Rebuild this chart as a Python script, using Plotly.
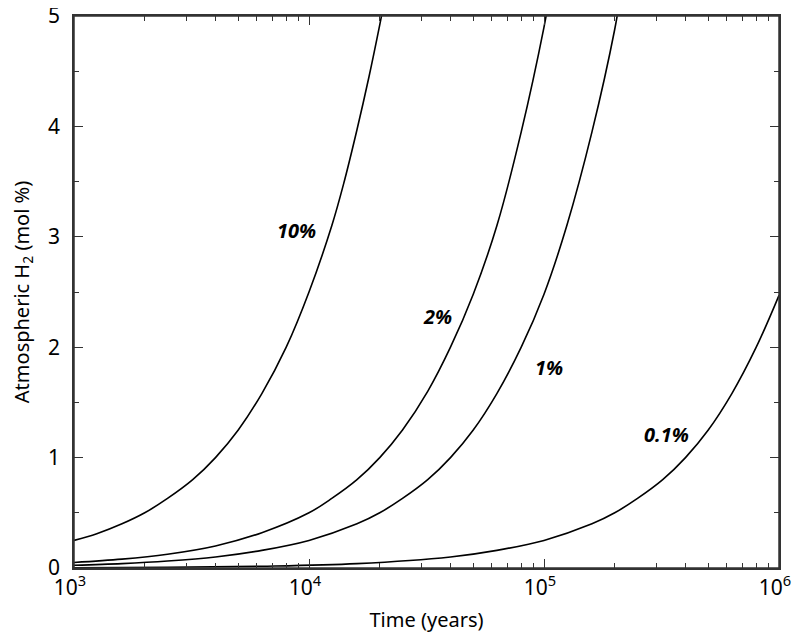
"""Atmospheric H2 build-up over time for several outgassing fractions."""

import plotly.graph_objects as go

# Time (years) and atmospheric H2 (mol %)
t_10 = [1000, 1250, 1600, 2000, 2500, 3200, 4000, 5000, 6300, 8000, 10000,
        12500, 14000, 16000, 18000, 20000, 21000]
h2_10 = [0.25, 0.31, 0.4, 0.5, 0.63, 0.8, 1.0, 1.25, 1.58, 2.0, 2.5,
         3.1, 3.47, 3.97, 4.45, 4.92, 5.15]

t_2 = [1000, 1600, 2500, 4000, 6300, 10000, 12500, 16000, 20000, 25000,
       32000, 40000, 50000, 63000, 80000, 100000, 106000]
h2_2 = [0.05, 0.08, 0.125, 0.2, 0.32, 0.5, 0.63, 0.8, 1.0, 1.25,
        1.6, 2.0, 2.48, 3.1, 3.95, 4.9, 5.2]

t_1 = [1000, 1600, 2500, 4000, 6300, 10000, 16000, 20000, 25000, 32000,
       40000, 50000, 63000, 80000, 100000, 125000, 160000, 200000, 212000]
h2_1 = [0.025, 0.04, 0.063, 0.1, 0.16, 0.25, 0.4, 0.5, 0.63, 0.8,
        1.0, 1.25, 1.58, 2.0, 2.48, 3.1, 3.95, 4.88, 5.2]

t_01 = [1000, 2500, 6300, 16000, 40000, 63000, 100000, 160000, 200000,
        250000, 320000, 400000, 500000, 630000, 800000, 1000000]
h2_01 = [0.0025, 0.006, 0.016, 0.04, 0.1, 0.16, 0.25, 0.4, 0.5,
         0.63, 0.8, 1.0, 1.25, 1.58, 2.0, 2.47]

series = [(t_10, h2_10), (t_2, h2_2), (t_1, h2_1), (t_01, h2_01)]

# Curve labels and where they sit (log10 time, mol %)
labels = ["10%", "2%", "1%", "0.1%"]
label_x = [3.945, 4.545, 5.02, 5.523]
label_y = [3.06, 2.28, 1.82, 1.21]

x_tickvals = [1e3, 1e4, 1e5, 1e6]
x_ticktext = ["10<sup>3</sup>", "10<sup>4</sup>", "10<sup>5</sup>", "10<sup>6</sup>"]
y_tickvals = [0, 1, 2, 3, 4, 5]

FONT = "Noto Sans"
AXIS_COLOR = "#333333"

fig = go.Figure()

for t, h2 in series:
    fig.add_trace(
        go.Scatter(
            x=t,
            y=h2,
            mode="lines",
            line={"color": "black", "width": 1.6, "shape": "spline", "smoothing": 1.0},
            showlegend=False,
        )
    )

for text, lx, ly in zip(labels, label_x, label_y):
    fig.add_annotation(
        x=lx,
        y=ly,
        text=f"<b><i>{text}</i></b>",
        showarrow=False,
        font={"family": FONT, "size": 20, "color": "black"},
    )

# frame round the plot area
fig.add_shape(
    type="rect",
    xref="paper",
    yref="paper",
    x0=0,
    x1=1,
    y0=0,
    y1=1,
    line={"color": AXIS_COLOR, "width": 1.5},
)

axis_common = dict(
    showline=True,
    linecolor=AXIS_COLOR,
    linewidth=1.5,
    mirror="allticks",
    ticks="inside",
    ticklen=9,
    tickwidth=1.2,
    tickcolor=AXIS_COLOR,
    showgrid=False,
    zeroline=False,
    automargin=False,
    ticklabeloverflow="allow",
    tickfont={"family": FONT, "size": 21, "color": "black"},
)

fig.update_xaxes(
    type="log",
    range=[3, 6],
    tickvals=x_tickvals,
    ticktext=x_ticktext,
    ticklabelshift=-4,
    title={"text": "Time (years)", "font": {"family": FONT, "size": 20, "color": "black"}},
    minor={"ticks": "inside", "ticklen": 5, "tickcolor": AXIS_COLOR, "dtick": "D1",
           "showgrid": False},
    **axis_common,
)

fig.update_yaxes(
    range=[0, 5],
    tickvals=y_tickvals,
    ticklabelstandoff=8,
    title={"text": "Atmospheric H<sub>2</sub> (mol %)",
           "font": {"family": FONT, "size": 20, "color": "black"}},
    minor={"ticks": "inside", "ticklen": 5, "tickcolor": AXIS_COLOR, "dtick": 0.5,
           "showgrid": False},
    **axis_common,
)

# the page body adds an 8px margin, so the figure is sized to fit the window
fig.update_layout(
    width=792,
    height=625,
    margin={"l": 66, "r": 21, "t": 8, "b": 65},
    plot_bgcolor="white",
    paper_bgcolor="white",
)

fig.write_html("out.html")
